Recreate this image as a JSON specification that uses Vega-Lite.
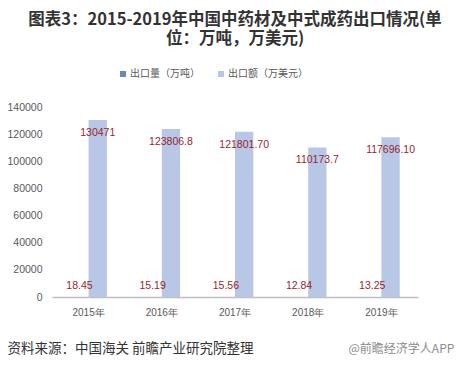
{
  "$schema": "https://vega.github.io/schema/vega-lite/v6.json",
  "width": 366,
  "height": 190,
  "autosize": {"type": "none"},
  "padding": {"left": 52, "top": 107, "right": 48, "bottom": 70},
  "background": "white",
  "title": {
    "text": ["图表3：2015-2019年中国中药材及中式成药出口情况(单", "位：万吨，万美元)"],
    "anchor": "middle",
    "frame": "group",
    "font": "Noto Sans CJK SC",
    "fontSize": 16.5,
    "fontWeight": "bold",
    "color": "#333333",
    "lineHeight": 19,
    "offset": 22
  },
  "data": {
    "values": [
      {"year": "2015年", "series": "出口量（万吨）", "value": 18.45, "label": "18.45"},
      {"year": "2015年", "series": "出口额（万美元）", "value": 130471, "label": "130471"},
      {"year": "2016年", "series": "出口量（万吨）", "value": 15.19, "label": "15.19"},
      {"year": "2016年", "series": "出口额（万美元）", "value": 123806.8, "label": "123806.8"},
      {"year": "2017年", "series": "出口量（万吨）", "value": 15.56, "label": "15.56"},
      {"year": "2017年", "series": "出口额（万美元）", "value": 121801.7, "label": "121801.70"},
      {"year": "2018年", "series": "出口量（万吨）", "value": 12.84, "label": "12.84"},
      {"year": "2018年", "series": "出口额（万美元）", "value": 110173.7, "label": "110173.7"},
      {"year": "2019年", "series": "出口量（万吨）", "value": 13.25, "label": "13.25"},
      {"year": "2019年", "series": "出口额（万美元）", "value": 117696.1, "label": "117696.10"}
    ]
  },
  "encoding": {
    "x": {
      "field": "year",
      "type": "nominal",
      "scale": {"paddingInner": 0.5, "paddingOuter": 0.25},
      "axis": {
        "labelAngle": 0,
        "ticks": false,
        "domainColor": "#bfbfbf",
        "domainWidth": 1.5,
        "labelFont": "Liberation Sans",
        "labelFontSize": 10,
        "labelColor": "#595959",
        "labelPadding": 10,
        "title": "资料来源：中国海关 前瞻产业研究院整理",
        "titleFont": "Noto Sans CJK SC",
        "titleFontSize": 13.5,
        "titleFontWeight": "normal",
        "titleColor": "#333333",
        "titleAnchor": "start",
        "titleAlign": "left",
        "titleBaseline": "middle",
        "titleX": -45,
        "titleY": 51
      }
    },
    "xOffset": {"field": "series", "type": "nominal", "sort": ["出口量（万吨）", "出口额（万美元）"]},
    "y": {
      "field": "value",
      "type": "quantitative",
      "scale": {"domain": [0, 140000]},
      "axis": {
        "values": [0, 20000, 40000, 60000, 80000, 100000, 120000, 140000],
        "format": "d",
        "grid": false,
        "domain": false,
        "ticks": false,
        "labelFont": "Liberation Sans",
        "labelFontSize": 10.5,
        "labelColor": "#595959",
        "labelPadding": 10,
        "title": "@前瞻经济学人APP",
        "titleAngle": 0,
        "titleFont": "Noto Sans CJK SC",
        "titleFontSize": 12,
        "titleFontWeight": "normal",
        "titleColor": "#8c8c8c",
        "titleAlign": "left",
        "titleBaseline": "middle",
        "titleX": 296,
        "titleY": 241
      }
    }
  },
  "layer": [
    {
      "mark": {"type": "bar"},
      "encoding": {
        "color": {
          "field": "series",
          "type": "nominal",
          "sort": ["出口量（万吨）", "出口额（万美元）"],
          "scale": {"domain": ["出口量（万吨）", "出口额（万美元）"], "range": ["#6c86b5", "#b7c7e5"]},
          "legend": {
            "title": null,
            "orient": "none",
            "direction": "horizontal",
            "legendX": 66,
            "legendY": -38,
            "symbolType": "square",
            "symbolSize": 36,
            "labelFont": "Noto Sans CJK SC",
            "labelFontSize": 10,
            "labelColor": "#595959",
            "columnPadding": 16,
            "symbolOffset": 0,
            "labelOffset": 2
          }
        }
      }
    },
    {
      "transform": [{"filter": "datum.series === '出口量（万吨）'"}],
      "mark": {"type": "text", "dy": -11, "font": "Liberation Sans", "fontSize": 10.5, "color": "#9a1f2a"},
      "encoding": {"text": {"field": "label"}}
    },
    {
      "transform": [{"filter": "datum.series === '出口额（万美元）'"}],
      "mark": {"type": "text", "dy": 13, "font": "Liberation Sans", "fontSize": 10.5, "color": "#9a1f2a"},
      "encoding": {"text": {"field": "label"}}
    }
  ],
  "config": {"view": {"stroke": null}}
}
